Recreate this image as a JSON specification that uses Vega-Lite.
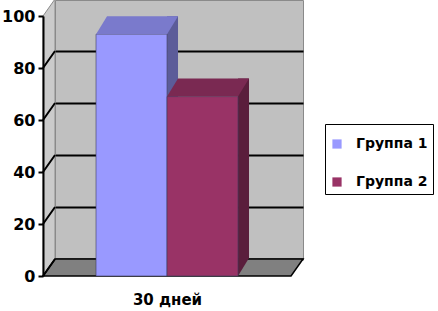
{
  "$schema": "https://vega.github.io/schema/vega-lite/v6.json",
  "width": 248,
  "height": 259,
  "autosize": {"type": "none"},
  "padding": {"left": 55, "top": 0, "right": 135, "bottom": 52},
  "background": "white",
  "config": {
    "font": "DejaVu Sans",
    "view": {"fill": "#C0C0C0", "stroke": "#8A8A8A", "strokeWidth": 1}
  },
  "data": {"values": [
    {"group": "Группа 1", "value": 93},
    {"group": "Группа 2", "value": 69}
  ]},
  "resolve": {"scale": {"y": "independent"}},
  "layer": [
    {
      "data": {"values": [{}]},
      "encoding": {
        "x": {"datum": "Группа 1", "type": "nominal", "bandPosition": 0},
        "y": {
          "datum": 0, "type": "quantitative",
          "scale": {"domain": [0, 100], "range": [259, -1]},
          "axis": {"orient": "right", "grid": true, "values": [0, 20, 40, 60, 80], "gridColor": "black", "gridWidth": 2, "gridOpacity": 1, "labels": false, "ticks": false, "domain": false, "title": null}
        }
      },
      "layer": [
        {"mark": {"type": "point", "shape": "M -53 17 L -53 -243 L -41 -260 L -41 0 Z", "size": 4, "filled": true, "fill": "#CBCBCB", "stroke": "#8A8A8A", "strokeWidth": 1, "opacity": 1}},
        {"mark": {"type": "point", "shape": "M -41 0 L 207 0 L 195 17 L -53 17 Z", "size": 4, "filled": true, "fill": "#808080", "stroke": "black", "strokeWidth": 1.5, "opacity": 1}},
        {"mark": {"type": "point", "shape": "M -53 17 L -41 0 M -53 -35 L -41 -52 M -53 -87 L -41 -104 M -53 -139 L -41 -156 M -53 -191 L -41 -208", "size": 4, "filled": false, "stroke": "black", "strokeWidth": 2, "opacity": 1}}
      ]
    },
    {
      "resolve": {"scale": {"color": "independent"}},
      "layer": [
        {
          "mark": {"type": "bar", "width": 11, "xOffset": 41, "yOffset": -18, "y2Offset": -18},
          "encoding": {
            "x": {"field": "group", "type": "nominal",
              "scale": {"range": [0, 248], "paddingInner": 0, "paddingOuter": 0.7465, "align": 0.387},
              "axis": {"labels": false, "ticks": false, "domain": false, "title": "30 дней", "titleX": 112, "titleFont": "DejaVu Sans", "titleFontSize": 15, "titleFontWeight": "bold", "titleColor": "black", "titlePadding": 33}
            },
            "y": {"field": "value", "type": "quantitative",
              "scale": {"domain": [0, 100], "range": [276, 16]},
              "axis": {"orient": "left", "offset": 12, "values": [0, 20, 40, 60, 80, 100], "grid": false, "domainColor": "black", "domainWidth": 2, "tickColor": "black", "tickWidth": 2, "tickSize": 5, "labelFont": "DejaVu Sans", "labelFontSize": 16, "labelFontWeight": "bold", "labelColor": "black", "labelPadding": 3, "title": null, "zindex": 1}
            },
            "y2": {"datum": 0},
            "color": {"field": "group", "type": "nominal", "scale": {"range": ["#5C5C99", "#5A1E3C"]}, "legend": null}
          }
        },
        {
          "mark": {"type": "point", "shape": "M 0 0 L 0 -18 L 11 -18 Z", "size": 4, "filled": true, "opacity": 1},
          "encoding": {
            "x": {"field": "group", "type": "nominal", "bandPosition": 1},
            "y": {"datum": 0, "type": "quantitative"},
            "color": {"field": "group", "type": "nominal", "scale": {"range": ["#5C5C99", "#5A1E3C"]}, "legend": null}
          }
        },
        {
          "mark": {"type": "bar", "stroke": "#3A3A5A", "strokeWidth": 0.6},
          "encoding": {
            "x": {"field": "group", "type": "nominal"},
            "y": {"field": "value", "type": "quantitative"},
            "y2": {"datum": 0},
            "color": {"field": "group", "type": "nominal", "scale": {"range": ["#9999FF", "#993366"]},
              "legend": {"orient": "none", "legendX": 270, "legendY": 124, "title": " ", "titleFontSize": 8, "titlePadding": 0, "symbolType": "square", "symbolSize": 85, "symbolStrokeWidth": 0, "labelFont": "DejaVu Sans", "labelFontSize": 14, "labelFontWeight": "bold", "labelColor": "black", "labelOffset": 12, "strokeColor": "black", "fillColor": "white", "padding": 5, "rowPadding": 24}
            }
          }
        },
        {
          "mark": {"type": "point", "shape": "M -35.5 0 L 35.5 0 L 46.5 -18 L -24.5 -18 Z", "size": 4, "filled": true, "opacity": 1},
          "encoding": {
            "x": {"field": "group", "type": "nominal"},
            "y": {"field": "value", "type": "quantitative"},
            "color": {"field": "group", "type": "nominal", "scale": {"range": ["#7A7ACC", "#7A2952"]}, "legend": null}
          }
        }
      ]
    }
  ]
}
